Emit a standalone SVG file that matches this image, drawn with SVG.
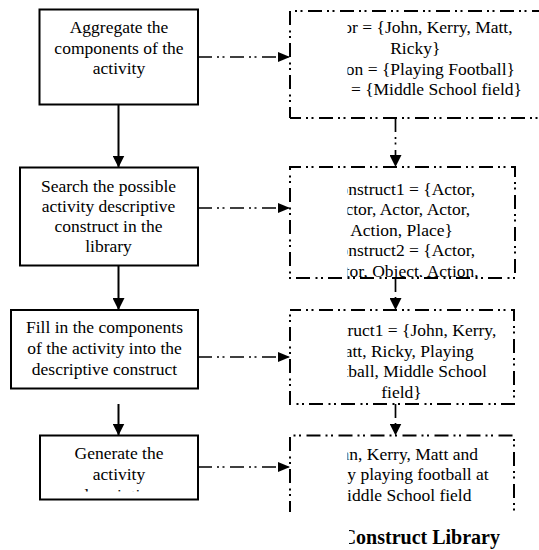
<svg xmlns="http://www.w3.org/2000/svg" width="539" height="550" viewBox="0 0 539 550">
<style>
.bx{fill:#fff;stroke:#000;stroke-width:2}
.db{fill:none;stroke:#000;stroke-width:2;stroke-dasharray:14 5 2 3.5 2 5.5}
.t{font-size:17.5px;fill:#000;text-anchor:middle}
.cap{font-size:20px;font-weight:bold;fill:#000;text-anchor:end}
.sl{fill:none;stroke:#000;stroke-width:2}
.dl{fill:none;stroke:#000;stroke-width:1.7;stroke-dasharray:14 5 2 3.5 2 5.5}
</style>
<defs>
<marker id="ah" viewBox="0 0 12 12" refX="12" refY="6" markerWidth="12" markerHeight="12" markerUnits="userSpaceOnUse" orient="auto"><path d="M0,0 L12,6 L0,12 Z" fill="#000"/></marker>
<marker id="ah2" viewBox="0 0 12 10" refX="12" refY="5" markerWidth="12" markerHeight="10" markerUnits="userSpaceOnUse" orient="auto"><path d="M0,0 L12,5 L0,10 Z" fill="#000"/></marker>
<clipPath id="cR1"><rect x="347.5" y="11" width="191.5" height="107"/></clipPath>
<clipPath id="cR2"><rect x="347.5" y="167" width="167.5" height="110"/></clipPath>
<clipPath id="cR3"><rect x="347.5" y="310" width="167.5" height="94"/></clipPath>
<clipPath id="cR4"><rect x="347.5" y="435" width="167.5" height="77"/></clipPath>
<clipPath id="cCap"><rect x="349" y="515" width="190" height="35"/></clipPath>
<clipPath id="cL4"><rect x="40" y="435" width="158" height="56.5"/></clipPath>
<clipPath id="cPage"><rect x="0" y="0" width="539" height="512"/></clipPath>
</defs>

<g id="connectors">
<line class="sl" x1="118.5" y1="104.5" x2="118.5" y2="167.5" marker-end="url(#ah)"/>
<line class="sl" x1="118.5" y1="265.5" x2="118.5" y2="310" marker-end="url(#ah)"/>
<line class="sl" x1="118.5" y1="404" x2="118.5" y2="435.5" marker-end="url(#ah)"/>
<line class="dl" x1="198" y1="57" x2="290" y2="57" marker-end="url(#ah2)"/>
<line class="dl" x1="198" y1="208" x2="290" y2="208" marker-end="url(#ah2)"/>
<line class="dl" x1="198" y1="357" x2="290" y2="357" marker-end="url(#ah2)"/>
<line class="dl" x1="198" y1="467" x2="290" y2="467" marker-end="url(#ah2)"/>
<line class="dl" x1="395.5" y1="118" x2="395.5" y2="167" marker-end="url(#ah)"/>
<line class="dl" x1="395.5" y1="278" x2="395.5" y2="310" marker-end="url(#ah)"/>
<line class="dl" x1="395.5" y1="404" x2="395.5" y2="435.5" marker-end="url(#ah)"/>
</g>

<g font-family="Liberation Serif, Times New Roman, serif">
<g id="step1">
<rect class="bx" x="39.5" y="9.5" width="158.5" height="95"/>
<text class="t" x="119" y="33">Aggregate the</text>
<text class="t" x="119" y="53.7">components of the</text>
<text class="t" x="119" y="74.3">activity</text>
</g>

<g id="step2">
<rect class="bx" x="20" y="167.5" width="178" height="98"/>
<text class="t" x="108.5" y="191.7">Search the possible</text>
<text class="t" x="108.5" y="212">activity descriptive</text>
<text class="t" x="108.5" y="232.2">construct in the</text>
<text class="t" x="108.5" y="252.4">library</text>
</g>

<g id="step3">
<rect class="bx" x="11" y="310" width="187" height="78.5"/>
<text class="t" x="104.5" y="333.3">Fill in the components</text>
<text class="t" x="104.5" y="354">of the activity into the</text>
<text class="t" x="104.5" y="374.5">descriptive construct</text>
</g>

<g id="step4">
<rect class="bx" x="40" y="435.5" width="158" height="64"/>
<g clip-path="url(#cL4)">
<text class="t" x="119" y="459.3">Generate the</text>
<text class="t" x="119" y="480">activity</text>
<text class="t" x="119" y="500.7">description</text>
</g>
</g>

<g id="components">
<path class="db" d="M290,118 V11 H548 M290,118 H548" stroke-dashoffset="3"/>
<g clip-path="url(#cR1)">
<text class="t" x="415.3" y="33.3">Actor = {John, Kerry, Matt,</text>
<text class="t" x="415.3" y="54">Ricky}</text>
<text class="t" x="415.3" y="74.6">Action = {Playing Football}</text>
<text class="t" x="415.3" y="95.2">Place = {Middle School field}</text>
</g>
</g>

<g id="constructs">
<path class="db" d="M290,167 H515 V278 H290 Z" stroke-dashoffset="3"/>
<g clip-path="url(#cR2)">
<text class="t" x="401.5" y="194.5">Construct1 = {Actor,</text>
<text class="t" x="401.5" y="215">Actor, Actor, Actor,</text>
<text class="t" x="401.5" y="235.5">Action, Place}</text>
<text class="t" x="401.5" y="256">Construct2 = {Actor,</text>
<text class="t" x="401.5" y="276.5">Actor, Object, Action,</text>
</g>
</g>

<g id="filled">
<path class="db" d="M290,310 H514 V404 H290 Z" stroke-dashoffset="3"/>
<g clip-path="url(#cR3)">
<text class="t" x="401.5" y="336">Construct1 = {John, Kerry,</text>
<text class="t" x="401.5" y="356.5">Matt, Ricky, Playing</text>
<text class="t" x="401.5" y="377">Football, Middle School</text>
<text class="t" x="401.5" y="397.5">field}</text>
</g>
</g>

<g id="description">
<path class="db" d="M290,512 V435.5 H514 V512" clip-path="url(#cPage)" stroke-dashoffset="3"/>
<g clip-path="url(#cR4)">
<text class="t" x="401.5" y="459.5">John, Kerry, Matt and</text>
<text class="t" x="401.5" y="480">Ricky playing football at</text>
<text class="t" x="401.5" y="500.5">Middle School field</text>
</g>
</g>

<g id="caption" clip-path="url(#cCap)">
<text class="cap" x="500" y="544">Construct Library</text>
</g>
</g>
</svg>
